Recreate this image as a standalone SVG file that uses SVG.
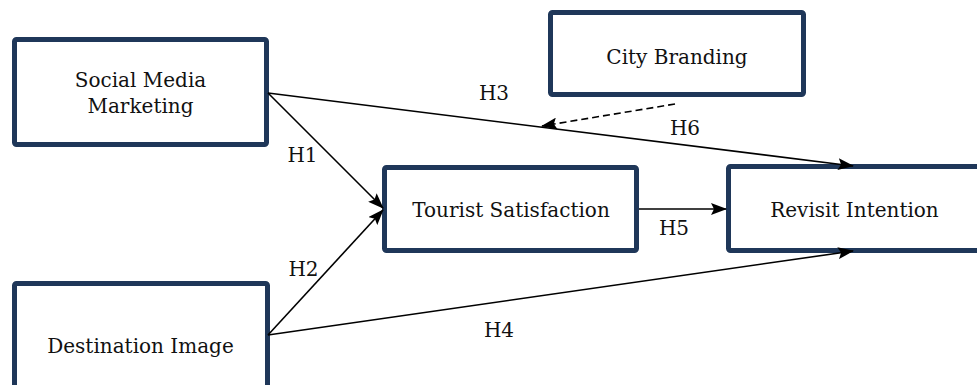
<svg xmlns="http://www.w3.org/2000/svg" width="977" height="385" viewBox="0 0 977 385">
<defs>
<style>
.box{fill:#fff;stroke:#1f3759;stroke-width:5}
.t{font-family:"DejaVu Serif",serif;font-size:20px;fill:#111;text-anchor:middle}
.c{fill:none;stroke:#000;stroke-width:1.6}
.d{stroke-dasharray:7 4}
</style>
<marker id="ah" viewBox="0 0 16 12" refX="15" refY="6" markerWidth="10" markerHeight="7.5" markerUnits="strokeWidth" orient="auto">
<path d="M0,0 L16,6 L0,12 L3,6 z" fill="#000"/>
</marker>
</defs>
<rect width="977" height="385" fill="#fff"/>
<g id="smm"><rect class="box" x="14.5" y="39.5" width="252" height="105" rx="2"/><text class="t" x="140.5" y="87">Social Media</text><text class="t" x="140.5" y="113">Marketing</text></g>
<g id="cb"><rect class="box" x="550.5" y="12.5" width="253" height="82" rx="2"/><text class="t" x="677" y="64">City Branding</text></g>
<g id="ts"><rect class="box" x="384.5" y="167.5" width="252" height="83" rx="2"/><text class="t" x="511" y="217">Tourist Satisfaction</text></g>
<g id="ri"><rect class="box" x="728.5" y="166.5" width="254" height="84" rx="2"/><text class="t" x="854.5" y="217">Revisit Intention</text></g>
<g id="di"><rect class="box" x="14.5" y="283.5" width="253" height="130" rx="2"/><text class="t" x="140.5" y="353">Destination Image</text></g>
<g id="connectors">
<line class="c" x1="268" y1="93" x2="853" y2="166" marker-end="url(#ah)"/>
<line class="c" x1="268" y1="93" x2="383" y2="208" marker-end="url(#ah)"/>
<line class="c" x1="268" y1="335" x2="383" y2="210" marker-end="url(#ah)"/>
<line class="c" x1="268" y1="335" x2="853" y2="251" marker-end="url(#ah)"/>
<line class="c" x1="639" y1="209" x2="726" y2="209" marker-end="url(#ah)"/>
<line class="c d" x1="675" y1="104" x2="542" y2="126" marker-end="url(#ah)"/>
<text class="t" x="494" y="100">H3</text>
<text class="t" x="685" y="135">H6</text>
<text class="t" x="302.5" y="162">H1</text>
<text class="t" x="303.5" y="276">H2</text>
<text class="t" x="674" y="235">H5</text>
<text class="t" x="499" y="337">H4</text>
</g>
</svg>
